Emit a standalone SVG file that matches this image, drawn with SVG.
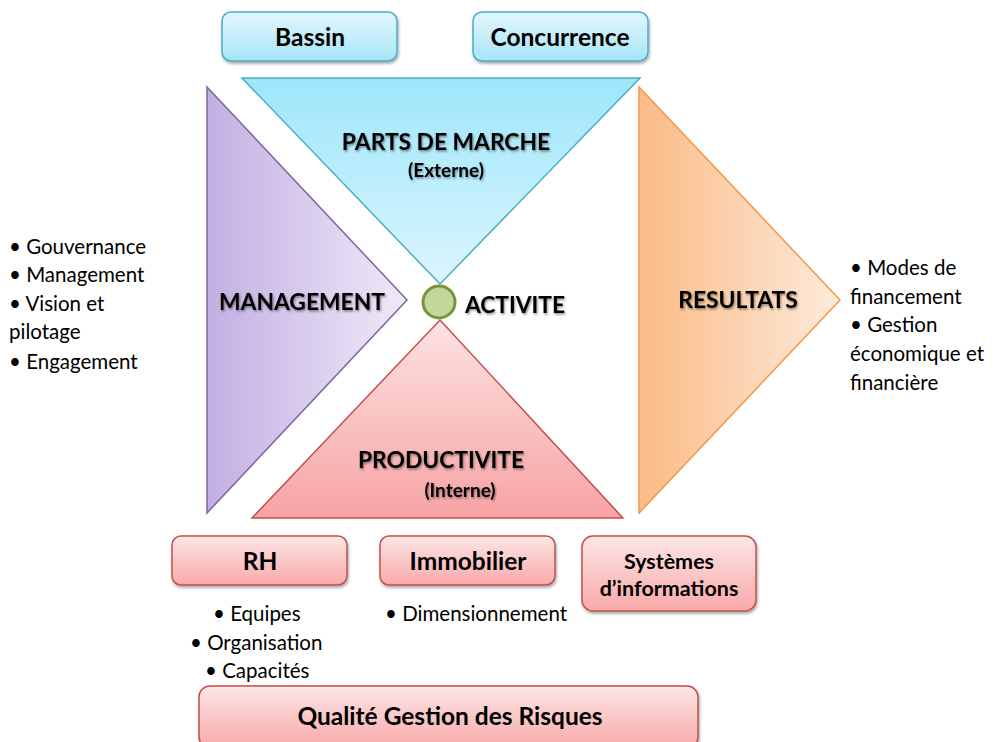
<svg xmlns="http://www.w3.org/2000/svg" width="996" height="742" viewBox="0 0 996 742">
  <defs>
    <linearGradient id="gBlueBox" x1="0" y1="0" x2="0" y2="1">
      <stop offset="0" stop-color="#e3f7fd"/>
      <stop offset="1" stop-color="#a6e4f6"/>
    </linearGradient>
    <linearGradient id="gRedBox" x1="0" y1="0" x2="0" y2="1">
      <stop offset="0" stop-color="#fde6e6"/>
      <stop offset="1" stop-color="#f8a9a9"/>
    </linearGradient>
    <linearGradient id="gBlueTri" x1="0" y1="0" x2="0" y2="1">
      <stop offset="0" stop-color="#9de6fb"/>
      <stop offset="1" stop-color="#dcf5fd"/>
    </linearGradient>
    <linearGradient id="gRedTri" x1="0" y1="0" x2="0" y2="1">
      <stop offset="0" stop-color="#fde2e2"/>
      <stop offset="1" stop-color="#f7a3a3"/>
    </linearGradient>
    <linearGradient id="gPurple" x1="0" y1="0" x2="1" y2="0">
      <stop offset="0" stop-color="#c2afe2"/>
      <stop offset="1" stop-color="#efeaf8"/>
    </linearGradient>
    <linearGradient id="gOrange" x1="0" y1="0" x2="1" y2="0">
      <stop offset="0" stop-color="#fbbb86"/>
      <stop offset="1" stop-color="#fdebdc"/>
    </linearGradient>
    <filter id="boxShadow" x="-10%" y="-20%" width="120%" height="150%">
      <feDropShadow dx="1" dy="2" stdDeviation="1.5" flood-color="#000" flood-opacity="0.35"/>
    </filter>
    <filter id="txtShadow" x="-10%" y="-30%" width="120%" height="170%">
      <feDropShadow dx="1" dy="1.5" stdDeviation="1.2" flood-color="#000" flood-opacity="0.45"/>
    </filter>
  </defs>
  <style>
    .title { font-family: Lato, "Liberation Sans", sans-serif; font-weight: bold; fill: #000; text-anchor: middle; }
    .big { font-size: 22.8px; }
    .small { font-size: 19px; }
    .boxlbl { font-family: Lato, "Liberation Sans", sans-serif; font-weight: bold; font-size: 24.5px; fill: #000; text-anchor: middle; }
    .bullet { font-family: Lato, "Liberation Sans", sans-serif; font-size: 20.5px; fill: #000; }
    .bluebox { fill: url(#gBlueBox); stroke: #4bacc6; stroke-width: 1.5; filter: url(#boxShadow); }
    .redbox { fill: url(#gRedBox); stroke: #c0504d; stroke-width: 1.5; filter: url(#boxShadow); }
  </style>

  <rect width="996" height="742" fill="#ffffff"/>

  <!-- market share triangle (pointing down) -->
  <g id="parts-de-marche">
    <polygon points="242,78 640,78 440,284" fill="url(#gBlueTri)" stroke="#4bacc6" stroke-width="1.5"/>
    <text class="title big" x="446" y="150" filter="url(#txtShadow)">PARTS DE MARCHE</text>
    <text class="title small" x="446" y="177" filter="url(#txtShadow)">(Externe)</text>
  </g>

  <!-- productivity triangle (pointing up) -->
  <g id="productivite">
    <polygon points="440,320 623,518 252,518" fill="url(#gRedTri)" stroke="#c0504d" stroke-width="1.5"/>
    <text class="title big" x="441" y="468" filter="url(#txtShadow)">PRODUCTIVITE</text>
    <text class="title small" x="460" y="497" filter="url(#txtShadow)">(Interne)</text>
  </g>

  <!-- management arrow -->
  <g id="management">
    <polygon points="207,87 407,300 207,513" fill="url(#gPurple)" stroke="#8064a2" stroke-width="1.5"/>
    <text class="title big" x="302" y="310" filter="url(#txtShadow)">MANAGEMENT</text>
  </g>

  <!-- results arrow -->
  <g id="resultats">
    <polygon points="639,87 840,300 639,513" fill="url(#gOrange)" stroke="#f79646" stroke-width="1.5"/>
    <text class="title big" x="738" y="308" filter="url(#txtShadow)">RESULTATS</text>
  </g>

  <!-- activity hub -->
  <g id="activite">
    <circle cx="439" cy="302" r="16" fill="#c3d69b" stroke="#77933c" stroke-width="3"/>
    <text class="title big" x="515" y="313" filter="url(#txtShadow)">ACTIVITE</text>
  </g>

  <!-- external factors -->
  <g id="bassin">
    <rect class="bluebox" x="222" y="12" width="175" height="49" rx="9"/>
    <text class="boxlbl" x="310" y="46">Bassin</text>
  </g>
  <g id="concurrence">
    <rect class="bluebox" x="473" y="12" width="175" height="49" rx="9"/>
    <text class="boxlbl" x="560" y="46">Concurrence</text>
  </g>

  <!-- internal resources -->
  <g id="rh">
    <rect class="redbox" x="172" y="536" width="175" height="49" rx="9"/>
    <text class="boxlbl" x="260" y="570">RH</text>
    <text class="bullet" x="213" y="621">• Equipes</text>
    <text class="bullet" x="190" y="650">• Organisation</text>
    <text class="bullet" x="205" y="678">• Capacités</text>
  </g>
  <g id="immobilier">
    <rect class="redbox" x="380" y="536" width="175" height="49" rx="9"/>
    <text class="boxlbl" x="468" y="570">Immobilier</text>
    <text class="bullet" x="385" y="621">• Dimensionnement</text>
  </g>
  <g id="systemes">
    <rect class="redbox" x="582" y="536" width="174" height="75" rx="11"/>
    <text class="boxlbl" x="669" y="569" style="font-size:21.5px">Systèmes</text>
    <text class="boxlbl" x="669" y="596" style="font-size:21.5px">d’informations</text>
  </g>
  <g id="qualite">
    <rect class="redbox" x="199" y="686" width="499" height="62" rx="11"/>
    <text class="boxlbl" x="450" y="725">Qualité Gestion des Risques</text>
  </g>

  <!-- management items -->
  <g id="management-items">
    <text class="bullet" x="9" y="254">• Gouvernance</text>
    <text class="bullet" x="9" y="282">• Management</text>
    <text class="bullet" x="9" y="311">• Vision et</text>
    <text class="bullet" x="9" y="339">pilotage</text>
    <text class="bullet" x="9" y="369">• Engagement</text>
  </g>

  <!-- results items -->
  <g id="resultats-items">
    <text class="bullet" x="850" y="275">• Modes de</text>
    <text class="bullet" x="850" y="304">financement</text>
    <text class="bullet" x="850" y="332">• Gestion</text>
    <text class="bullet" x="850" y="361">économique et</text>
    <text class="bullet" x="850" y="390">financière</text>
  </g>
</svg>
